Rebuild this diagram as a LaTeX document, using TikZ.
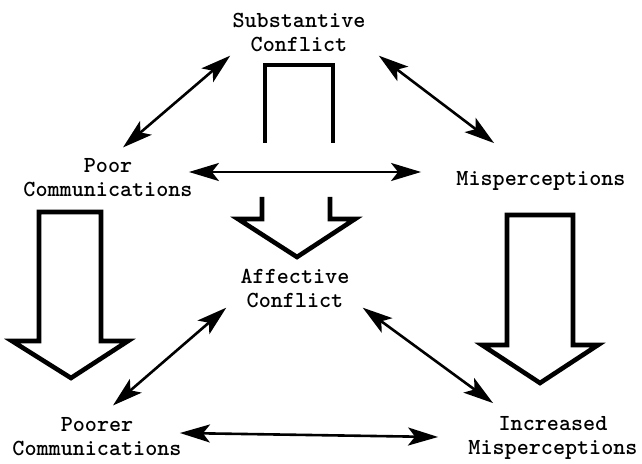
\documentclass[tikz,border=0pt]{standalone}
\usepackage{amsmath}
\usetikzlibrary{arrows.meta,calc}

\begin{document}
\begin{tikzpicture}[x=0.5pt,y=-0.5pt,>={Stealth[length=15pt,width=9pt,inset=3.5pt]}]
		\tikzset{
			lbl/.style={
					align=center,
					inner sep=2pt,
					font=\ttfamily\bfseries\fontsize{11.5}{12}\selectfont,
				},
			twoway/.style={<->, line width=1.3pt},
			fat/.style={line width=2.3pt, line join=miter},
		}
		\useasboundingbox (0,0) rectangle (642,464);
		%
		\node[lbl] (subst) at (299,32) {Substantive\\Conflict};
		\node[lbl] (poor) at (108,178) {Poor\\Communications};
		\node[lbl] (misp) at (541,181) {Misperceptions};
		\node[lbl] (aff) at (295,288) {Affective\\Conflict};
		\node[lbl] (poorer) at (97,437) {Poorer\\Communications};
		\node[lbl] (incr) at (553,438) {Increased\\Misperceptions};
		%
		\draw[twoway] ($(subst.south west)+(2,0)$) -- ($(poor.north)+(15,-7)$);
		\draw[twoway] ($(subst.south east)+(9,0)$) -- ($(misp.north west)+(42,-24)$);
		\draw[twoway] ($(poor.east)+(-8,-6)$) -- ($(misp.west)+(-31,-9)$);
		\draw[twoway] ($(aff.south west)+(-10,-4)$) -- ($(poorer.north)+(16,-8)$);
		\draw[twoway] ($(aff.south east)+(9,-4)$) -- ($(incr.north west)+(29,-9)$);
		\draw[twoway] ($(poorer.east)+(-6,-4)$) -- ($(incr.west)+(-26,-1)$);
		%
		\draw[fat] (39,212) -- (101,212) -- (101,341) -- (128,341) -- (71,378) -- (12,341) -- (39,341) -- cycle;
		\draw[fat] (507,215) -- (573,215) -- (573,345) -- (598,345) -- (540,383) -- (482,345) -- (507,345) -- cycle;
		\draw[fat] (265,143) -- (265,65) -- (333,65) -- (333,143);
		\draw[fat] (262,197) -- (262,219) -- (238,219) -- (297,257) -- (355,219) -- (330,219) -- (330,197);
		%(subst) to (aff) is cut by the poor--misp arrow
	\end{tikzpicture}
\end{document}
